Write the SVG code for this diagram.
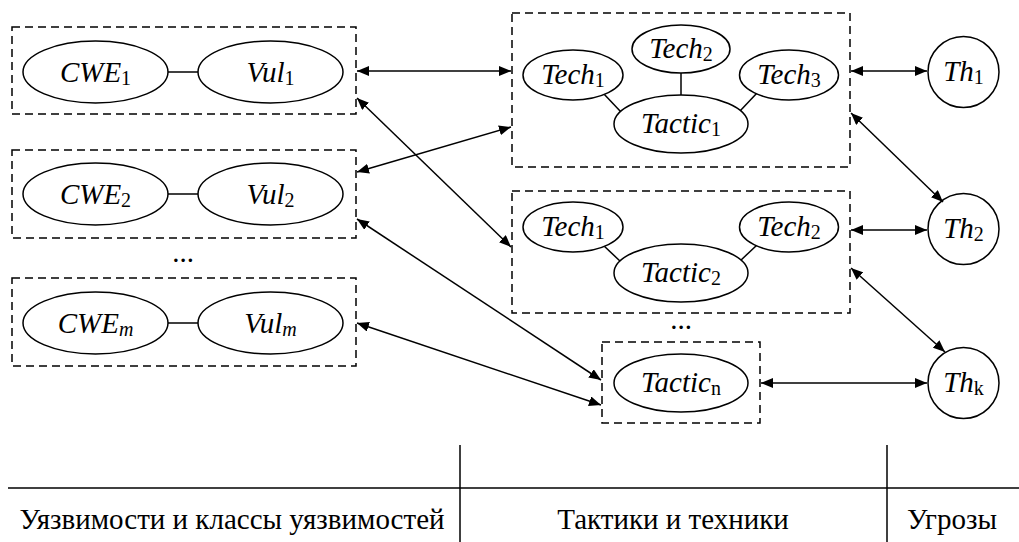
<svg xmlns="http://www.w3.org/2000/svg" width="1019" height="542" viewBox="0 0 1019 542">
<defs>
<marker id="ah" viewBox="0 0 12 10" refX="12" refY="5" markerWidth="12" markerHeight="10" markerUnits="userSpaceOnUse" orient="auto-start-reverse">
<path d="M0,0 L12,5 L0,10 z" fill="#000"/>
</marker>
</defs>

<g id="vul1" stroke="#000" stroke-width="1.5" fill="#fff">
<rect x="12" y="27" width="344" height="87" fill="none" stroke-dasharray="8,5"/>
<line x1="168" y1="72" x2="198" y2="72"/>
<ellipse cx="95.5" cy="72" rx="72.5" ry="31"/>
<ellipse cx="270.5" cy="72" rx="72.5" ry="31"/>
<text x="95.5" y="82" stroke="none" fill="#000" font-family="Liberation Serif" font-size="29" font-style="italic" text-anchor="middle">CWE<tspan font-size="20" font-style="normal" dy="3">1</tspan></text>
<text x="270.5" y="82" stroke="none" fill="#000" font-family="Liberation Serif" font-size="29" font-style="italic" text-anchor="middle">Vul<tspan font-size="20" font-style="normal" dy="3">1</tspan></text>
</g>

<g id="vul2" stroke="#000" stroke-width="1.5" fill="#fff">
<rect x="12" y="150" width="344" height="88" fill="none" stroke-dasharray="8,5"/>
<line x1="168" y1="194" x2="198" y2="194"/>
<ellipse cx="95.5" cy="194" rx="72.5" ry="31"/>
<ellipse cx="270.5" cy="194" rx="72.5" ry="31"/>
<text x="95.5" y="204" stroke="none" fill="#000" font-family="Liberation Serif" font-size="29" font-style="italic" text-anchor="middle">CWE<tspan font-size="20" font-style="normal" dy="3">2</tspan></text>
<text x="270.5" y="204" stroke="none" fill="#000" font-family="Liberation Serif" font-size="29" font-style="italic" text-anchor="middle">Vul<tspan font-size="20" font-style="normal" dy="3">2</tspan></text>
</g>

<text x="183" y="262" font-family="Liberation Serif" font-size="29" text-anchor="middle">...</text>

<g id="vulm" stroke="#000" stroke-width="1.5" fill="#fff">
<rect x="12" y="278" width="344" height="88" fill="none" stroke-dasharray="8,5"/>
<line x1="168" y1="323" x2="198" y2="323"/>
<ellipse cx="95.5" cy="323" rx="72.5" ry="31"/>
<ellipse cx="270.5" cy="323" rx="72.5" ry="31"/>
<text x="95.5" y="333" stroke="none" fill="#000" font-family="Liberation Serif" font-size="29" font-style="italic" text-anchor="middle">CWE<tspan font-size="20" dy="3">m</tspan></text>
<text x="270.5" y="333" stroke="none" fill="#000" font-family="Liberation Serif" font-size="29" font-style="italic" text-anchor="middle">Vul<tspan font-size="20" dy="3">m</tspan></text>
</g>

<g id="tactic1" stroke="#000" stroke-width="1.5" fill="#fff">
<rect x="512" y="13" width="338" height="154" fill="none" stroke-dasharray="8,5"/>
<line x1="681" y1="73" x2="681" y2="96"/>
<line x1="603" y1="93" x2="621" y2="112"/>
<line x1="757" y1="93" x2="740" y2="111"/>
<ellipse cx="573" cy="75" rx="50" ry="25"/>
<ellipse cx="681" cy="49" rx="49" ry="24"/>
<ellipse cx="789" cy="75" rx="49.5" ry="25"/>
<ellipse cx="681" cy="124" rx="67" ry="29"/>
<text x="573" y="84" stroke="none" fill="#000" font-family="Liberation Serif" font-size="29" font-style="italic" text-anchor="middle">Tech<tspan font-size="20" font-style="normal" dy="3">1</tspan></text>
<text x="681" y="58" stroke="none" fill="#000" font-family="Liberation Serif" font-size="29" font-style="italic" text-anchor="middle">Tech<tspan font-size="20" font-style="normal" dy="3">2</tspan></text>
<text x="789" y="84" stroke="none" fill="#000" font-family="Liberation Serif" font-size="29" font-style="italic" text-anchor="middle">Tech<tspan font-size="20" font-style="normal" dy="3">3</tspan></text>
<text x="681" y="133" stroke="none" fill="#000" font-family="Liberation Serif" font-size="29" font-style="italic" text-anchor="middle">Tactic<tspan font-size="20" font-style="normal" dy="3">1</tspan></text>
</g>

<g id="tactic2" stroke="#000" stroke-width="1.5" fill="#fff">
<rect x="512" y="191" width="338" height="122" fill="none" stroke-dasharray="8,5"/>
<line x1="603" y1="245" x2="621" y2="262"/>
<line x1="757" y1="245" x2="740" y2="261"/>
<ellipse cx="573" cy="227" rx="50" ry="25"/>
<ellipse cx="789" cy="227" rx="49.5" ry="25"/>
<ellipse cx="681" cy="273" rx="67" ry="29"/>
<text x="573" y="236" stroke="none" fill="#000" font-family="Liberation Serif" font-size="29" font-style="italic" text-anchor="middle">Tech<tspan font-size="20" font-style="normal" dy="3">1</tspan></text>
<text x="789" y="236" stroke="none" fill="#000" font-family="Liberation Serif" font-size="29" font-style="italic" text-anchor="middle">Tech<tspan font-size="20" font-style="normal" dy="3">2</tspan></text>
<text x="681" y="282" stroke="none" fill="#000" font-family="Liberation Serif" font-size="29" font-style="italic" text-anchor="middle">Tactic<tspan font-size="20" font-style="normal" dy="3">2</tspan></text>
</g>

<text x="681" y="329" font-family="Liberation Serif" font-size="29" text-anchor="middle">...</text>

<g id="tacticn" stroke="#000" stroke-width="1.5" fill="#fff">
<rect x="602" y="342" width="158" height="81" fill="none" stroke-dasharray="8,5"/>
<ellipse cx="681" cy="383" rx="67" ry="29"/>
<text x="681" y="392" stroke="none" fill="#000" font-family="Liberation Serif" font-size="29" font-style="italic" text-anchor="middle">Tactic<tspan font-size="20" font-style="normal" dy="3">n</tspan></text>
</g>

<g id="th1" stroke="#000" stroke-width="1.5" fill="#fff">
<circle cx="963.5" cy="72" r="35.5"/>
<text x="963.5" y="81" stroke="none" fill="#000" font-family="Liberation Serif" font-size="29" font-style="italic" text-anchor="middle">Th<tspan font-size="20" font-style="normal" dy="3">1</tspan></text>
</g>
<g id="th2" stroke="#000" stroke-width="1.5" fill="#fff">
<circle cx="963.5" cy="229" r="35.5"/>
<text x="963.5" y="238" stroke="none" fill="#000" font-family="Liberation Serif" font-size="29" font-style="italic" text-anchor="middle">Th<tspan font-size="20" font-style="normal" dy="3">2</tspan></text>
</g>
<g id="thk" stroke="#000" stroke-width="1.5" fill="#fff">
<circle cx="963.5" cy="383" r="35.5"/>
<text x="963.5" y="392" stroke="none" fill="#000" font-family="Liberation Serif" font-size="29" font-style="italic" text-anchor="middle">Th<tspan font-size="20" font-style="normal" dy="3">k</tspan></text>
</g>

<g id="connectors" stroke="#000" stroke-width="1.5" fill="none" marker-start="url(#ah)" marker-end="url(#ah)">
<line x1="357" y1="71" x2="511" y2="71"/>
<line x1="357" y1="98" x2="511" y2="247"/>
<line x1="357" y1="172" x2="511" y2="127"/>
<line x1="357" y1="219" x2="601" y2="380"/>
<line x1="357" y1="323" x2="601" y2="405"/>
<line x1="851" y1="71" x2="927" y2="71"/>
<line x1="851" y1="113" x2="943" y2="202"/>
<line x1="851" y1="230" x2="927" y2="230"/>
<line x1="851" y1="268" x2="945" y2="352"/>
<line x1="761" y1="383" x2="927" y2="383"/>
</g>

<g id="legend" stroke="#000" stroke-width="1.5">
<line x1="8" y1="488" x2="1019" y2="488"/>
<line x1="460" y1="445" x2="460" y2="542"/>
<line x1="887" y1="445" x2="887" y2="542"/>
</g>
<text x="232" y="529" font-family="Liberation Serif" font-size="29" text-anchor="middle">Уязвимости и классы уязвимостей</text>
<text x="673" y="529" font-family="Liberation Serif" font-size="29" text-anchor="middle">Тактики и техники</text>
<text x="952" y="529" font-family="Liberation Serif" font-size="29" text-anchor="middle">Угрозы</text>
</svg>
